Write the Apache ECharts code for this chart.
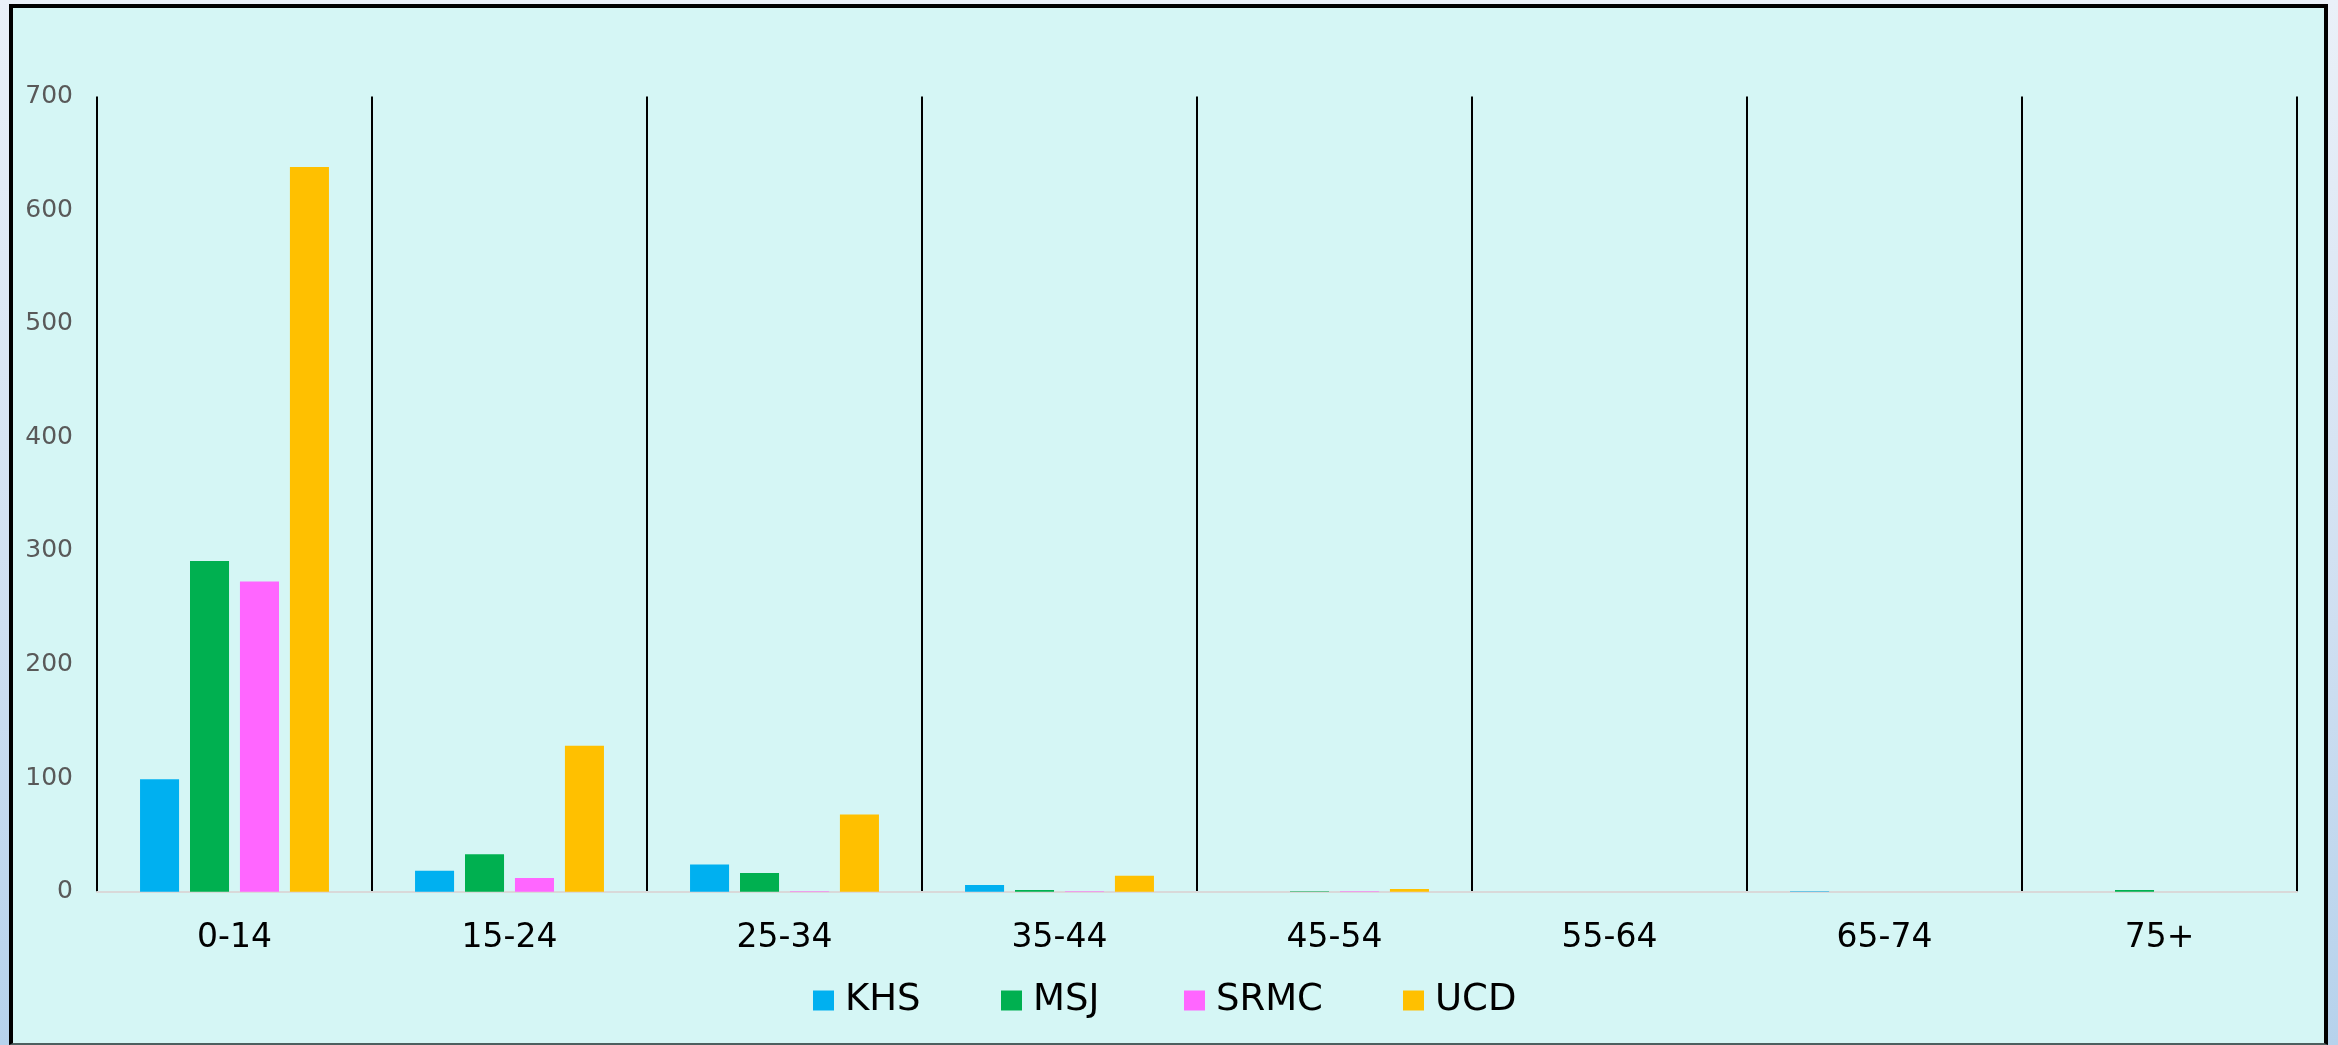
<!DOCTYPE html>
<html>
<head>
<meta charset="utf-8">
<script src="https://cdn.jsdelivr.net/npm/echarts@6/dist/echarts.min.js"></script>
<style>
  html, body { margin: 0; padding: 0; width: 2338px; height: 1045px; overflow: hidden;
    background: linear-gradient(to bottom, #eaf0f8 0%, #cfdff1 60%, #b6d2ec 100%); }
  #box { position: absolute; left: 9px; top: 4px; width: 2311px; height: 1035px;
    background: #d5f6f5; border-left: 4px solid #000; border-top: 4px solid #000;
    border-right: 4px solid #000; border-bottom: 2px solid #4d5f5f; }
  #chart { position: absolute; left: 0; top: 0; width: 2338px; height: 1045px; }
</style>
</head>
<body>
<div id="box"></div>
<div id="chart"></div>
<script>
const categories = ['0-14', '15-24', '25-34', '35-44', '45-54', '55-64', '65-74', '75+'];
const seriesNames = ['KHS', 'MSJ', 'SRMC', 'UCD'];
const khs  = [99, 18.5, 24, 6, 0, 0, 0.4, 0];
const msj  = [291, 33, 16.5, 1.5, 0.4, 0, 0, 1.5];
const srmc = [273, 12, 0.5, 0.4, 0.4, 0, 0, 0];
const ucd  = [638, 128.5, 68, 14, 2.3, 0, 0, 0];
const colors = ['#00b0f0', '#00b050', '#ff66ff', '#ffc000'];
const yTicks = [0, 100, 200, 300, 400, 500, 600, 700];
const legendLeft = [813, 1001, 1184, 1403];

const values = [khs, msj, srmc, ucd];
const chart = echarts.init(document.getElementById('chart'), null, { renderer: 'canvas' });
chart.setOption({
  backgroundColor: 'transparent',
  animation: false,
  textStyle: { fontFamily: 'DejaVu Sans' },
  grid: { left: 97, right: 41, top: 96.5, bottom: 153.3, containLabel: false },
  legend: seriesNames.map((name, i) => ({
    data: [name],
    left: legendLeft[i],
    top: 982,
    padding: 0,
    icon: 'rect',
    itemWidth: 21,
    itemHeight: 20,
    textStyle: { fontFamily: 'DejaVu Sans', fontSize: 37, color: '#000', padding: [0, 0, 0, 6] }
  })),
  xAxis: {
    type: 'category',
    data: categories,
    boundaryGap: true,
    axisLine: { show: true, lineStyle: { color: '#d9d9d9', width: 2 } },
    axisTick: { show: false },
    splitLine: { show: true, lineStyle: { color: '#000', width: 2 } },
    axisLabel: { color: '#000', fontSize: 33, fontFamily: 'DejaVu Sans', margin: 30 }
  },
  yAxis: {
    type: 'value',
    min: yTicks[0],
    max: yTicks[yTicks.length - 1],
    interval: 100,
    axisLine: { show: false },
    axisTick: { show: false },
    splitLine: { show: false },
    axisLabel: { color: '#595959', fontSize: 25, fontFamily: 'DejaVu Sans', margin: 24 }
  },
  series: seriesNames.map((name, i) => ({
    name: name,
    type: 'bar',
    data: values[i],
    barGap: '28%',
    barCategoryGap: '31.3%',
    itemStyle: { color: colors[i] }
  }))
});
</script>
</body>
</html>
